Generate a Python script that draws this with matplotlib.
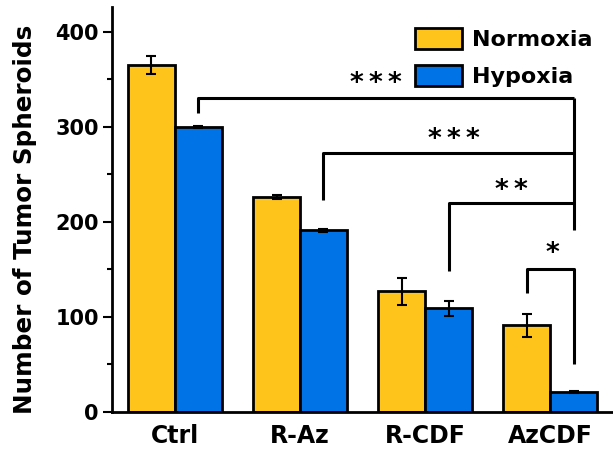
import numpy as np
import matplotlib.pyplot as plt
from matplotlib.ticker import MultipleLocator

# ======================
# DATA
# ======================
groups = ["Ctrl", "R-Az", "R-CDF", "AzCDF"]
normoxia = [365, 226, 127, 91]
normoxia_err = [9, 2, 14, 12]
hypoxia = [300, 191, 109, 21]
hypoxia_err = [1, 1.5, 8, 1]

# significance: hypoxia of each group vs AzCDF hypoxia
sig_labels = ["***", "***", "**"]
sig_tops = [330, 272, 220]
sig_legs = [315, 223, 148]
# AzCDF normoxia vs hypoxia
sig_last = "*"

YELLOW = "#FFC41C"
BLUE = "#0073E6"

plt.rcParams["font.family"] = "DejaVu Sans"
plt.rcParams["font.weight"] = "bold"

fig = plt.figure(figsize=(6.13, 4.51), dpi=100)
ax = fig.add_axes([0.183, 0.0865, 0.817, 0.898])

x = np.arange(len(groups))
w = 0.375
xn = x - w / 2
xh = x + w / 2

ax.bar(xn, normoxia, w, color=YELLOW, edgecolor="black", linewidth=2, label="Normoxia", zorder=2)
ax.bar(xh, hypoxia, w, color=BLUE, edgecolor="black", linewidth=2, label="Hypoxia", zorder=2)
ax.errorbar(xn, normoxia, yerr=normoxia_err, fmt="none", ecolor="black", elinewidth=1.5, capsize=3.6, capthick=1.5, zorder=3)
ax.errorbar(xh, hypoxia, yerr=hypoxia_err, fmt="none", ecolor="black", elinewidth=1.5, capsize=3.6, capthick=1.5, zorder=3)

# ======================
# SIGNIFICANCE BRACKETS
# ======================
lw = 2.2
xr = xh[-1]
ax.plot([xr, xr], [sig_tops[0], 191], color="black", lw=lw, solid_capstyle="butt")
star_pos = [(1.61, 345), (2.23, 286), (2.69, 232)]
for i in range(3):
    ax.plot([xh[i], xh[i], xr], [sig_legs[i], sig_tops[i], sig_tops[i]], color="black", lw=lw, solid_capstyle="butt")
    ax.text(star_pos[i][0], star_pos[i][1], "\u2009".join(sig_labels[i]), ha="center", va="center", fontsize=19)
ax.plot([xn[3], xn[3], xr, xr], [125, 150, 150, 51], color="black", lw=lw, solid_capstyle="butt")
ax.text(3.02, 166, sig_last, ha="center", va="center", fontsize=19)

# ======================
# AXES
# ======================
ax.set_xlim(-0.5, 3.5)
ax.set_ylim(0, 426)
ax.set_xticks(x)
ax.set_xticklabels(groups, fontsize=17, fontweight="bold")
ax.tick_params(axis="x", length=0, pad=9)
ax.yaxis.set_major_locator(MultipleLocator(100))
ax.yaxis.set_minor_locator(MultipleLocator(50))
ax.tick_params(axis="y", which="major", length=6.5, width=1.5, labelsize=15, pad=3)
ax.tick_params(axis="y", which="minor", length=3.6, width=1.5)
for lab in ax.get_yticklabels():
    lab.set_fontweight("bold")
for s in ["top", "right"]:
    ax.spines[s].set_visible(False)
for s in ["left", "bottom"]:
    ax.spines[s].set_linewidth(2)

fig.text(0.041, 0.514, "Number of Tumor Spheroids", rotation=90, ha="center", va="center",
         fontsize=17.7, fontweight="bold")

leg = ax.legend(loc="upper left", bbox_to_anchor=(415 / 613, 1 - 28 / 451), bbox_transform=fig.transFigure,
                frameon=False, fontsize=16, handlelength=2.1, handleheight=1.08, handletextpad=0.45,
                labelspacing=0.65, borderpad=0, borderaxespad=0)
for t in leg.get_texts():
    t.set_fontweight("bold")

fig.savefig("out.png", dpi=100)
